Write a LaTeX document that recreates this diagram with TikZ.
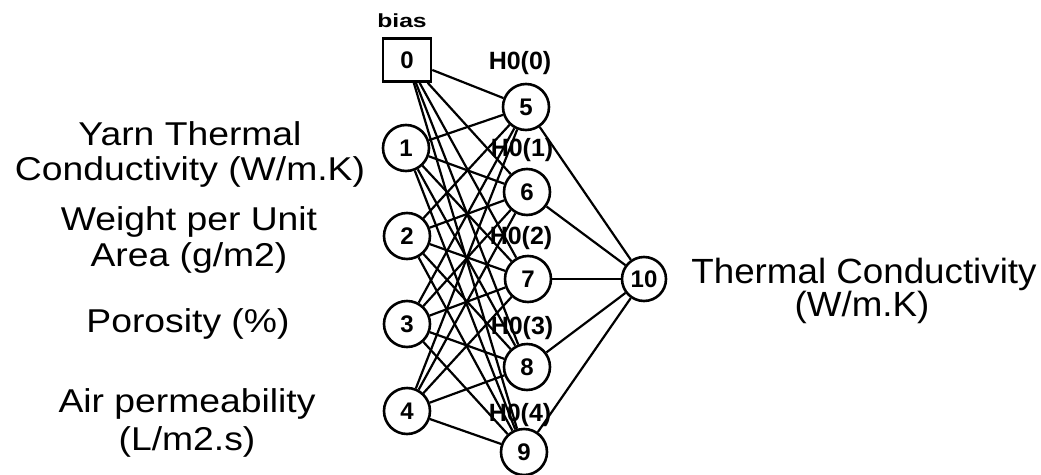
\documentclass[tikz,border=0pt]{standalone}
\usepackage{fontspec}
\setmainfont{Liberation Sans}
\newfontfamily\lblfont[FakeStretch=1.13]{Liberation Sans}
\newfontfamily\rlblfont[FakeStretch=1.05]{Liberation Sans}
\newfontfamily\biasfont[FakeStretch=1.3]{Liberation Sans}
\usetikzlibrary{backgrounds}
\begin{document}
\begin{tikzpicture}[x=1pt,y=-1pt,
  neuron/.style={circle,draw,line width=2.6pt,fill=white,minimum size=46pt,inner sep=0pt,
    font=\fontsize{24}{24}\selectfont\bfseries},
  biasbox/.style={rectangle,draw,line width=2.6pt,fill=white,minimum width=48pt,minimum height=43pt,
    inner sep=0pt,font=\fontsize{24}{24}\selectfont\bfseries},
  conn/.style={line width=2.2pt},
  inlabel/.style={anchor=base,inner sep=0pt,font=\lblfont\fontsize{33}{36}\selectfont},
  outlabel/.style={anchor=base,inner sep=0pt,font=\rlblfont\fontsize{35}{36}\selectfont},
  hlabel/.style={inner sep=0pt,font=\fontsize{25}{25}\selectfont\bfseries},
  biaslabel/.style={inner sep=0pt,font=\biasfont\fontsize{19}{19}\selectfont\bfseries}
]
\useasboundingbox (0,0) rectangle (1041,474);

% input labels
\node[inlabel] (l1a) at (190,145) {Yarn Thermal};
\node[inlabel] (l1b) at (190,180) {Conductivity (W/m.K)};
\node[inlabel] (l2a) at (189,230) {Weight per Unit};
\node[inlabel] (l2b) at (189,266) {Area (g/m2)};
\node[inlabel] (l3)  at (188,332) {Porosity (\%)};
\node[inlabel] (l4a) at (187,412) {Air permeability};
\node[inlabel] (l4b) at (187,450) {(L/m2.s)};

% output labels
\node[outlabel] (loa) at (864,283) {Thermal Conductivity};
\node[outlabel] (lob) at (862,316) {(W/m.K)};

% bias
\node[biaslabel] (lb) at (402,21) {bias};
\node[biasbox] (n0) at (407,60) {0};

% input neurons
\node[neuron] (n1) at (406,148) {1};
\node[neuron] (n2) at (407,236) {2};
\node[neuron] (n3) at (407,324) {3};
\node[neuron] (n4) at (407,411) {4};

% hidden neurons
\node[neuron] (n5) at (526,107) {5};
\node[neuron] (n6) at (527,192) {6};
\node[neuron] (n7) at (528,279) {7};
\node[neuron] (n8) at (527,367) {8};
\node[neuron] (n9) at (524,452) {9};

% output neuron
\node[neuron,minimum size=44pt] (n10) at (644,279) {10};

\begin{scope}[on background layer]
  \node[hlabel] (h0) at (520,63) {H0(0)};
  \node[hlabel] (h1) at (522,150) {H0(1)};
  \node[hlabel] (h2) at (521,238) {H0(2)};
  \node[hlabel] (h3) at (522,328) {H0(3)};
  \node[hlabel] (h4) at (520,415) {H0(4)};
  \foreach \i in {0,1,2,3,4}{
    \foreach \j in {5,6,7,8,9}{
      \draw[conn] (n\i) -- (n\j);
    }
  }
  \foreach \j in {5,6,7,8,9}{
    \draw[conn] (n\j) -- (n10);
  }
\end{scope}
\end{tikzpicture}
\end{document}
